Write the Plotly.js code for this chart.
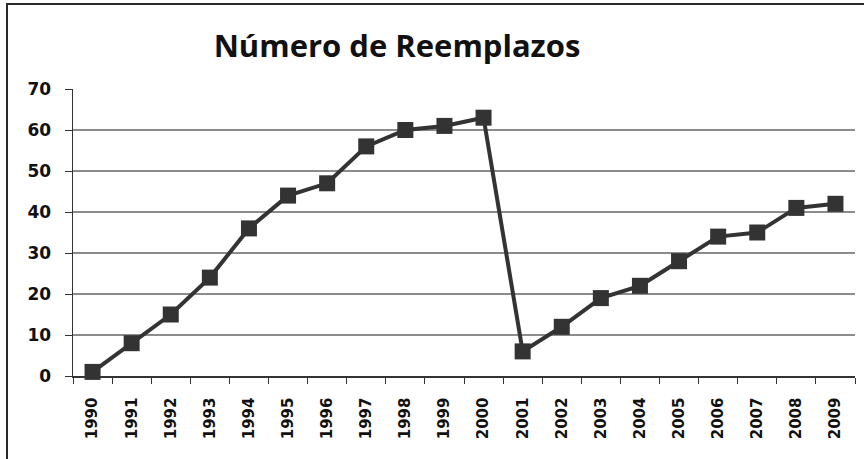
<!DOCTYPE html>
<html>
<head>
<meta charset="utf-8">
<script src="https://cdn.plot.ly/plotly-3.0.1.min.js"></script>
<style>
  html, body { margin: 0; padding: 0; background: #fff; }
  #wrap { position: relative; width: 864px; height: 459px; overflow: hidden; }
  #chart { width: 864px; height: 459px; }
  #frame { position: absolute; left: 6px; top: 3px; width: 870px; height: 470px; border-top: 2px solid #2a2a2a; border-left: 2px solid #2a2a2a; pointer-events: none; box-sizing: border-box; }
</style>
</head>
<body>
<div id="wrap">
  <div id="chart"></div>
  <div id="frame"></div>
</div>
<script>
const years = ["1990","1991","1992","1993","1994","1995","1996","1997","1998","1999",
               "2000","2001","2002","2003","2004","2005","2006","2007","2008","2009"];
const reemplazos = [1, 8, 15, 24, 36, 44, 47, 56, 60, 61, 63, 6, 12, 19, 22, 28, 34, 35, 41, 42];
const yTicks = [0, 10, 20, 30, 40, 50, 60, 70];

const trace = {
  x: years,
  y: reemplazos,
  type: 'scatter',
  mode: 'lines+markers',
  line: { color: '#333333', width: 4 },
  marker: { symbol: 'square', size: 16, color: '#333333' },
  cliponaxis: false,
  hoverinfo: 'x+y'
};

const layout = {
  width: 864,
  height: 459,
  margin: { l: 73, r: 9, t: 89, b: 83 },
  paper_bgcolor: '#ffffff',
  plot_bgcolor: '#ffffff',
  showlegend: false,
  title: {
    text: '<b>Número de Reemplazos</b>',
    font: { family: 'Open Sans, sans-serif', size: 31, color: '#111' },
    x: 397 / 864, xanchor: 'center', xref: 'container',
    y: 1 - 46 / 459, yanchor: 'middle', yref: 'container'
  },
  xaxis: {
    type: 'category',
    range: [-0.5, years.length - 0.5],
    tickson: 'boundaries',
    ticks: 'outside',
    ticklen: 6,
    tickcolor: '#333',
    showline: true,
    linecolor: '#333',
    linewidth: 1.5,
    showgrid: false,
    tickangle: -90,
    ticklabelstandoff: 14,
    tickfont: { family: 'DejaVu Sans, sans-serif', size: 15, color: '#111', weight: 'bold' },
    fixedrange: true
  },
  yaxis: {
    range: [0, 70],
    tickvals: yTicks,
    ticktext: yTicks.map(String),
    ticks: 'outside',
    ticklen: 7,
    tickcolor: '#333',
    showline: true,
    linecolor: '#333',
    linewidth: 1.5,
    showgrid: true,
    gridcolor: '#8c8c8c',
    gridwidth: 1.2,
    zeroline: false,
    ticklabelstandoff: 10,
    tickfont: { family: 'DejaVu Sans, sans-serif', size: 17, color: '#111', weight: 'bold' },
    fixedrange: true
  }
};

Plotly.newPlot('chart', [trace], layout, { displayModeBar: false, staticPlot: true });
</script>
</body>
</html>
